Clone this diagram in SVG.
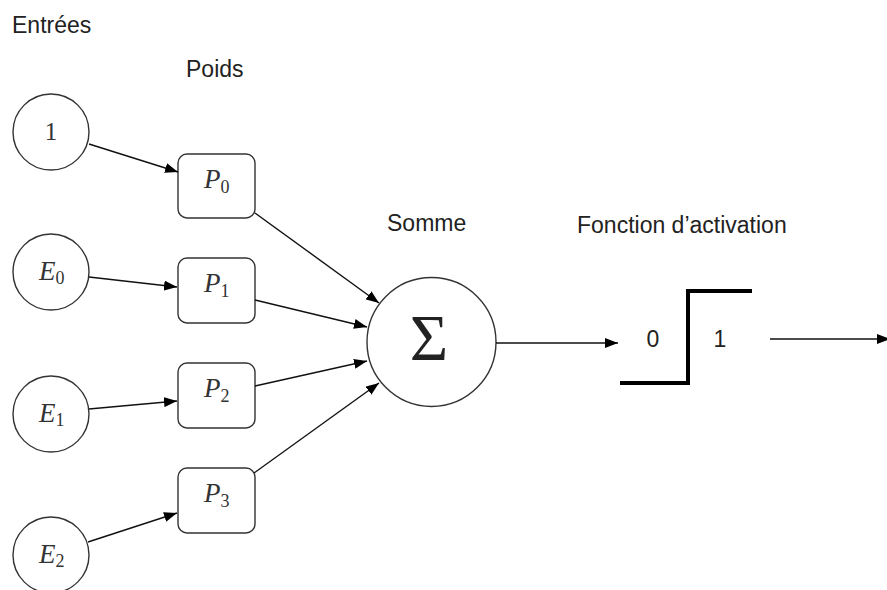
<svg xmlns="http://www.w3.org/2000/svg" width="887" height="590" viewBox="0 0 887 590">
<style>
.lbl{font-family:"Liberation Sans",Arial,sans-serif;font-size:23px;fill:#222}
.node{fill:#fff;stroke:#333;stroke-width:1.4}
.m{font-family:"Liberation Serif","Times New Roman",serif;font-size:27px;font-style:italic;fill:#333}
.sub{font-style:normal;font-size:18px}
.num{font-family:"Liberation Serif","Times New Roman",serif;font-size:25px;fill:#333}
.edge{stroke:#111;stroke-width:1.4;fill:none}
.step{stroke:#000;stroke-width:4;fill:none}
</style>
<defs>
<marker id="ah" markerUnits="userSpaceOnUse" markerWidth="14" markerHeight="10" refX="13" refY="5" orient="auto">
<path d="M0,0 L13,5 L0,10 Z" fill="#000"/>
</marker>
</defs>
<text class="lbl" x="12" y="33">Entrées</text>
<text class="lbl" x="186" y="77">Poids</text>
<text class="lbl" x="387" y="231">Somme</text>
<text class="lbl" x="577" y="233">Fonction d’activation</text>

<g id="in1"><circle class="node" cx="51" cy="132" r="38"/><text class="num" x="51" y="140" text-anchor="middle">1</text></g>
<g id="e0"><circle class="node" cx="51" cy="272" r="38"/><text class="m" x="39" y="280">E<tspan class="sub" dy="4">0</tspan></text></g>
<g id="e1"><circle class="node" cx="51" cy="414" r="38"/><text class="m" x="39" y="422">E<tspan class="sub" dy="4">1</tspan></text></g>
<g id="e2"><circle class="node" cx="51" cy="555" r="38"/><text class="m" x="39" y="563">E<tspan class="sub" dy="4">2</tspan></text></g>

<g id="p0"><rect class="node" x="178" y="154" width="77" height="64" rx="9"/><text class="m" x="204" y="188">P<tspan class="sub" dy="5">0</tspan></text></g>
<g id="p1"><rect class="node" x="178" y="258" width="77" height="65" rx="9"/><text class="m" x="204" y="292">P<tspan class="sub" dy="5">1</tspan></text></g>
<g id="p2"><rect class="node" x="178" y="363" width="77" height="65" rx="9"/><text class="m" x="204" y="397">P<tspan class="sub" dy="5">2</tspan></text></g>
<g id="p3"><rect class="node" x="178" y="468" width="77" height="65" rx="9"/><text class="m" x="204" y="502">P<tspan class="sub" dy="5">3</tspan></text></g>

<g id="sum"><circle class="node" cx="431.5" cy="342" r="64.5"/><text x="429" y="360" text-anchor="middle" font-family="'Liberation Serif','Times New Roman',serif" font-size="66" fill="#222">Σ</text></g>

<g id="activation">
<polyline class="step" points="620,383 688,383 688,291 752,291"/>
<text class="lbl" x="653" y="347" text-anchor="middle" font-size="17">0</text>
<text class="lbl" x="720" y="347" text-anchor="middle" font-size="17">1</text>
</g>

<g id="connectors">
<line class="edge" x1="89" y1="144" x2="178" y2="172" marker-end="url(#ah)"/>
<line class="edge" x1="89" y1="277" x2="177" y2="287" marker-end="url(#ah)"/>
<line class="edge" x1="89" y1="409" x2="177" y2="401" marker-end="url(#ah)"/>
<line class="edge" x1="88" y1="542" x2="177" y2="513" marker-end="url(#ah)"/>
<line class="edge" x1="255" y1="213" x2="379" y2="303" marker-end="url(#ah)"/>
<line class="edge" x1="255" y1="300" x2="367" y2="327" marker-end="url(#ah)"/>
<line class="edge" x1="255" y1="386" x2="367" y2="361" marker-end="url(#ah)"/>
<line class="edge" x1="254" y1="473" x2="379" y2="383" marker-end="url(#ah)"/>
<line class="edge" x1="496" y1="343" x2="618" y2="343" marker-end="url(#ah)"/>
<line class="edge" x1="770" y1="339" x2="890" y2="339" marker-end="url(#ah)"/>
</g>
</svg>
